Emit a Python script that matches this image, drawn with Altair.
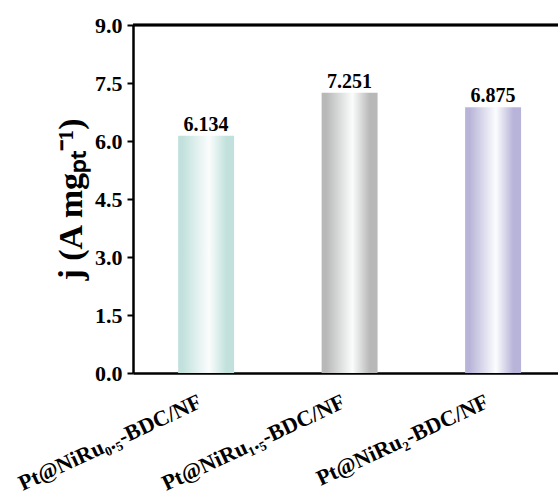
import altair as alt
import pandas as pd

categories = ["Pt@NiRu₀.₅-BDC/NF", "Pt@NiRu₁.₅-BDC/NF", "Pt@NiRu₂-BDC/NF"]
values = [6.134, 7.251, 6.875]
value_labels = ["6.134", "7.251", "6.875"]
edge_colors = ["#c2e1dc", "#b8b8b8", "#b8b4d9"]
y_ticks = [0, 0.75, 1.5, 2.25, 3.0, 3.75, 4.5, 5.25, 6.0, 6.75, 7.5, 8.25, 9.0]

df = pd.DataFrame({"cat": categories, "val": values, "lab": value_labels})

FONT = "Liberation Serif"

x_enc = alt.X(
    "cat:N",
    sort=categories,
    scale=alt.Scale(domain=categories, paddingInner=0.61, paddingOuter=0.286, align=0.55),
    axis=alt.Axis(
        title=None,
        labelAngle=335,
        labelAlign="right",
        labelBaseline="top",
        labelFont=FONT,
        labelFontWeight="bold",
        labelFontSize=22,
        labelColor="black",
        labelPadding=18,
        labelOffset=-10,
        ticks=False,
        domainColor="black",
        domainWidth=2.5,
        labelLimit=400,
        labelOverlap=False,
    ),
)

y_enc = alt.Y(
    "val:Q",
    scale=alt.Scale(domain=[0, 9], nice=False, zero=True),
    axis=alt.Axis(
        title="j (A mgₚₜ⁻¹)",
        values=y_ticks,
        labelExpr="datum.value % 1.5 === 0 ? format(datum.value, '.1f') : ''",
        tickSize={"condition": {"test": "datum.value % 1.5 === 0", "value": 6}, "value": 3.5},
        tickWidth=2,
        tickColor="black",
        domainColor="black",
        domainWidth=2.5,
        labelFont=FONT,
        labelFontWeight="bold",
        labelFontSize=22,
        labelColor="black",
        labelPadding=5,
        titleFont=FONT,
        titleFontWeight="bold",
        titleFontSize=34,
        titleColor="black",
        titlePadding=6,
        grid=False,
    ),
)

base = alt.Chart(df)

layers = []
for cat, col in zip(categories, edge_colors):
    grad = alt.LinearGradient(
        gradient="linear",
        stops=[
            alt.GradientStop(color=col, offset=0),
            alt.GradientStop(color=col, offset=0.08),
            alt.GradientStop(color="#fbfdfd", offset=0.55),
            alt.GradientStop(color=col, offset=0.86),
            alt.GradientStop(color=col, offset=1),
        ],
        x1=0, x2=1, y1=0, y2=0,
    )
    layers.append(
        base.transform_filter(alt.datum.cat == cat)
        .mark_bar(color=grad, strokeWidth=0)
        .encode(x=x_enc, y=y_enc)
    )

text = base.mark_text(
    font=FONT, fontWeight="bold", fontSize=20, color="black",
    baseline="alphabetic", dy=-5,
).encode(x=x_enc, y=y_enc, text="lab:N")

top_rule = base.mark_rule(color="black", strokeWidth=2.5).encode(y=alt.datum(9))

chart = alt.layer(*layers, text, top_rule).properties(
    width=425,
    height=348,
    autosize=alt.AutoSizeParams(type="none"),
    padding={"left": 133, "top": 25, "right": 0, "bottom": 127},
    background="white",
).configure_view(stroke=None)

chart.save("out.html", embed_options={"renderer": "svg", "actions": False})
